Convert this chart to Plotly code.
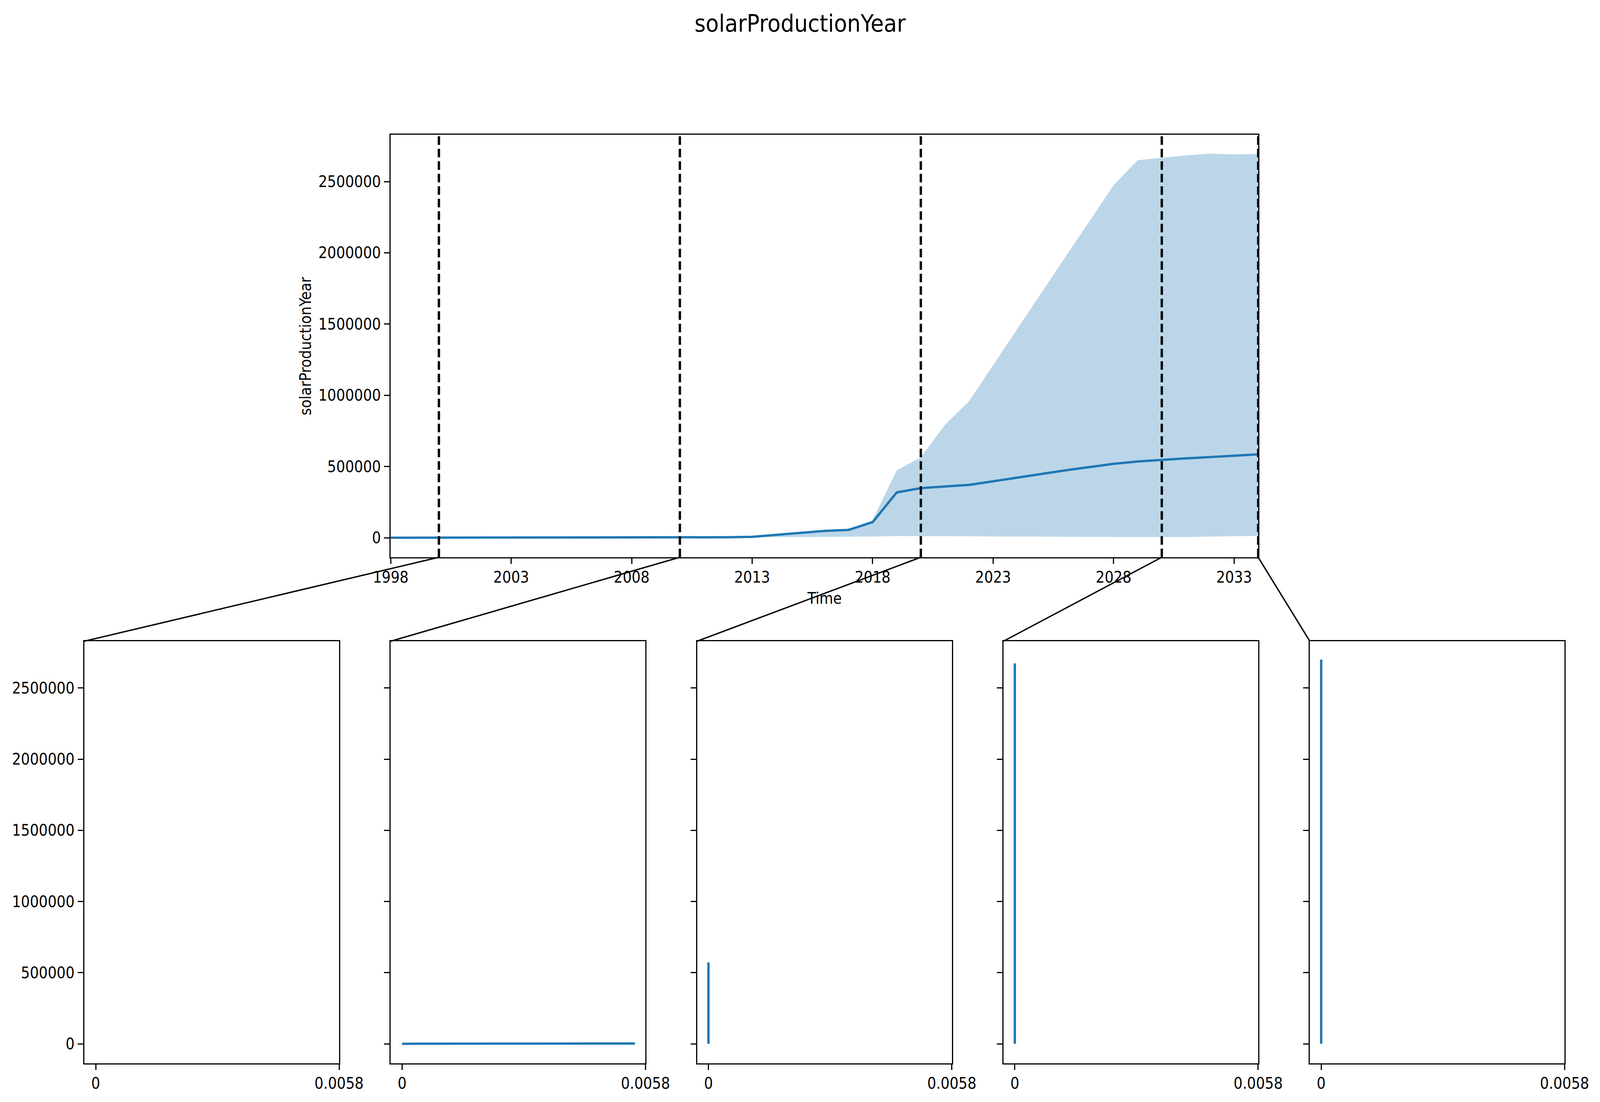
import plotly.graph_objects as go

# data
years = [1998, 1999, 2000, 2001, 2002, 2003, 2004, 2005, 2006, 2007, 2008, 2009,
         2010, 2011, 2012, 2013, 2014, 2015, 2016, 2017, 2018, 2019, 2020, 2021,
         2022, 2023, 2024, 2025, 2026, 2027, 2028, 2029, 2030, 2031, 2032, 2033, 2034]
mean_prod = [0, 0, 0, 100, 200, 300, 400, 500, 600, 700, 900, 1100,
             1500, 2500, 3500, 6000, 20000, 30000, 48000, 55000, 109000, 318000, 348000, 360000,
             371000, 396000, 423000, 450000, 473000, 496000, 519000, 535000, 548000, 557000, 566000, 575000, 585000]
upper_prod = [0, 0, 0, 200, 300, 400, 500, 600, 700, 800, 1000, 1300,
              2000, 3000, 4500, 8000, 22000, 33000, 50000, 59000, 125000, 473000, 564000, 792000,
              958000, 1212000, 1465000, 1717000, 1972000, 2222000, 2475000, 2650000, 2668000, 2684000, 2696000, 2691000, 2693000]
lower_prod = [0, 0, 0, 0, 100, 200, 300, 400, 500, 600, 700, 900,
              1200, 2000, 3000, 3000, 4000, 5000, 6000, 7000, 8000, 12000, 12000, 11000,
              10000, 9000, 8000, 7000, 6000, 5000, 5000, 5000, 5000, 5000, 8000, 10000, 13000]

# selected years shown as dashed lines + density panels below
cut_years = [2000, 2010, 2020, 2030, 2034]
dens_2000, vals_2000 = [], []
dens_2010 = [0.0, 0.0003, 0.0032, 0.00555]
vals_2010 = [0, 800, 1600, 2400]
dens_2020 = [0.0, 0.0000008, 0.000002, 0.0000035, 0.0000012, 0.0]
vals_2020 = [0, 100000, 250000, 400000, 500000, 572000]
dens_2030 = [0.0, 0.0000003, 0.0000004, 0.0000002, 0.0]
vals_2030 = [0, 700000, 1400000, 2100000, 2673000]
dens_2034 = [0.0, 0.0000003, 0.0000004, 0.0000002, 0.0]
vals_2034 = [0, 700000, 1400000, 2100000, 2700000]
panel_dens = [dens_2000, dens_2010, dens_2020, dens_2030, dens_2034]
panel_vals = [vals_2000, vals_2010, vals_2020, vals_2030, vals_2034]

# reference pixel grid, used only to turn positions into paper fractions
W, H = 4648, 2822
BLUE = '#1f77b4'
FAMILY = 'DejaVu Sans Condensed, DejaVu Sans'
FONT = dict(family=FAMILY, size=40, color='black')

main_x_dom = [1135 / W, 3655 / W]
main_y_dom = [1 - 1427 / H, 1 - 345 / H]
bot_y_dom = [1 - 2723 / H, 1 - 1642 / H]
x_range = [1998, 2034]
y_range = [-137000, 2829000]
dens_range = [-0.000271, 0.0058]

axis_style = dict(showline=True, mirror=True, linecolor='black', linewidth=3,
                  ticks='outside', ticklen=14, tickwidth=3, tickcolor='black',
                  showgrid=False, zeroline=False, automargin=False, tickfont=FONT)

fig = go.Figure()

# uncertainty band + mean line
fig.add_trace(go.Scatter(x=years, y=lower_prod, mode='lines', line=dict(width=0),
                         hoverinfo='skip', xaxis='x', yaxis='y'))
fig.add_trace(go.Scatter(x=years, y=upper_prod, mode='lines', line=dict(width=0),
                         fill='tonexty', fillcolor='rgba(31,119,180,0.3)',
                         xaxis='x', yaxis='y'))
fig.add_trace(go.Scatter(x=years, y=mean_prod, mode='lines', line=dict(color=BLUE, width=6),
                         xaxis='x', yaxis='y'))

layout = dict(
    margin=dict(l=0, r=0, t=0, b=0, pad=0), autosize=True,
    paper_bgcolor='white', plot_bgcolor='white', showlegend=False,
    font=FONT,
    xaxis=dict(domain=main_x_dom, range=x_range, anchor='y',
               tickvals=[1998, 2003, 2008, 2013, 2018, 2023, 2028, 2033], **axis_style),
    yaxis=dict(domain=main_y_dom, range=y_range, anchor='x',
               tickvals=[0, 500000, 1000000, 1500000, 2000000, 2500000], tickformat='d',
               **axis_style),
)

shapes = []
for i, cy in enumerate(cut_years):
    n = i + 2
    left = (245 + 890 * i) / W
    right = (985 + 890 * i) / W
    layout['xaxis%d' % n] = dict(domain=[left, right], range=dens_range, anchor='y%d' % n,
                                 tickvals=[0, 0.0058], ticktext=['0', '0.0058'], **axis_style)
    layout['yaxis%d' % n] = dict(domain=bot_y_dom, range=y_range, anchor='x%d' % n,
                                 tickvals=[0, 500000, 1000000, 1500000, 2000000, 2500000],
                                 tickformat='d', showticklabels=(i == 0), **axis_style)
    # every panel gets a trace so plotly draws its axes (2000 one stays empty)
    fig.add_trace(go.Scatter(x=panel_dens[i], y=panel_vals[i], mode='lines',
                             line=dict(color=BLUE, width=6),
                             xaxis='x%d' % n, yaxis='y%d' % n))
    # dashed marker on the main axes
    shapes.append(dict(type='line', xref='x', yref='y domain', x0=cy, x1=cy, y0=0, y1=1,
                       line=dict(color='black', width=6, dash='22px,10px')))
    # connector from main axes to the panel's upper-left corner
    px = main_x_dom[0] + (cy - x_range[0]) / (x_range[1] - x_range[0]) * (main_x_dom[1] - main_x_dom[0])
    shapes.append(dict(type='line', xref='paper', yref='paper', x0=px, y0=main_y_dom[0],
                       x1=left, y1=bot_y_dom[1], line=dict(color='black', width=3.5)))

layout['shapes'] = shapes
layout['annotations'] = [
    dict(text='solarProductionYear', xref='paper', yref='paper', x=0.5, y=1 - 59 / H,
         xanchor='center', yanchor='middle', showarrow=False,
         font=dict(family=FAMILY, size=61, color='black')),
    dict(text='solarProductionYear', xref='paper', yref='paper', x=887 / W,
         y=(main_y_dom[0] + main_y_dom[1]) / 2, textangle=-90,
         xanchor='center', yanchor='middle', showarrow=False, font=FONT),
    dict(text='Time', xref='paper', yref='paper', x=(main_x_dom[0] + main_x_dom[1]) / 2,
         y=1 - 1532 / H, xanchor='center', yanchor='middle', showarrow=False, font=FONT),
]

fig.update_layout(**layout)
fig.write_html("out.html", default_width='100vw', default_height='100vh',
               config={'displayModeBar': False},
               post_script="document.body.style.margin='0';")
